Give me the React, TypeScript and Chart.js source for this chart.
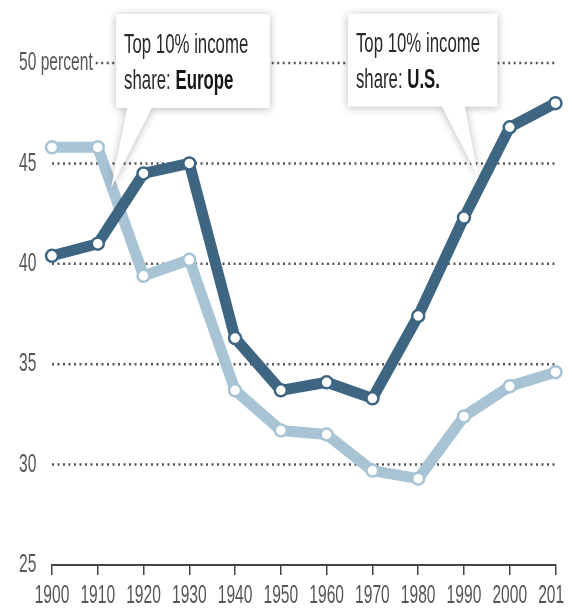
import React, { useEffect, useRef } from "react";
import { Chart, registerables } from "chart.js";

Chart.register(...registerables);

// ---- data ----
const years = [1900, 1910, 1920, 1930, 1940, 1950, 1960, 1970, 1980, 1990, 2000, 2010];
const usShare = [40.4, 41.0, 44.5, 45.0, 36.3, 33.7, 34.1, 33.3, 37.4, 42.3, 46.8, 48.0];
const europeShare = [45.8, 45.8, 39.4, 40.2, 33.7, 31.7, 31.5, 29.7, 29.3, 32.4, 33.9, 34.6];
const yMin = 25;
const yMax = 50;
const yStep = 5;
const calloutTitle = "Top 10% income";
const calloutPrefix = "share: ";

// callouts anchored in data coordinates
const callouts = [
  { region: "Europe", box: [1914.0, 52.44, 1947.6, 47.76], tail: [1916.4, 1921.8], tip: [1912.9, 43.77] },
  { region: "U.S.", box: [1964.65, 52.47, 1997.35, 47.82], tail: [1985.2, 1990.2], tip: [1993.2, 44.27] },
];

// ---- styles ----
const US_COLOR = "#3e6682";
const EU_COLOR = "#a7c3d4";
const TICK_TEXT = "#555555";
const FONT = '"Liberation Sans", Arial, sans-serif';
const SQUEEZE = 0.6;

const yTickLabel = (v: number) => (v === yMax ? `${v} percent` : String(v));

type Part = { text: string; bold?: boolean };

function drawSqueezed(
  ctx: CanvasRenderingContext2D,
  parts: Part[],
  x: number,
  y: number,
  size: number,
  align: "left" | "center",
  color: string,
  baseline: CanvasTextBaseline = "middle",
  squeeze = SQUEEZE
): number {
  ctx.save();
  ctx.translate(x, y);
  ctx.scale(squeeze, 1);
  ctx.textBaseline = baseline;
  ctx.textAlign = "left";
  let total = 0;
  const widths = parts.map((p) => {
    ctx.font = `${p.bold ? "bold " : ""}${size}px ${FONT}`;
    const w = ctx.measureText(p.text).width;
    total += w;
    return w;
  });
  let cx = align === "center" ? -total / 2 : 0;
  parts.forEach((p, i) => {
    ctx.font = `${p.bold ? "bold " : ""}${size}px ${FONT}`;
    ctx.fillStyle = p.bold ? "#151515" : color;
    ctx.fillText(p.text, cx, 0);
    cx += widths[i];
  });
  ctx.restore();
  return total * squeeze;
}

const decorPlugin = {
  id: "decor",
  beforeDatasetsDraw(chart: any) {
    const { ctx, chartArea, scales } = chart;
    const x = scales.x;
    const y = scales.y;
    ctx.save();
    // y labels + dotted grid
    y.ticks.forEach((t: any) => {
      const v = t.value;
      const py = y.getPixelForValue(v);
      const w = drawSqueezed(ctx, [{ text: yTickLabel(v) }], 11, py, 26, "left", TICK_TEXT);
      if (v === yMin) return;
      const startX = v === yMax ? 11 + w + 3 : chartArea.left;
      ctx.beginPath();
      ctx.setLineDash([2, 3.5]);
      ctx.lineWidth = 2.5;
      ctx.strokeStyle = "#555";
      ctx.moveTo(startX, py);
      ctx.lineTo(chartArea.right, py);
      ctx.stroke();
    });
    ctx.setLineDash([]);
    // x labels
    x.ticks.forEach((t: any, i: number) => {
      const px = x.getPixelForTick(i);
      drawSqueezed(ctx, [{ text: String(t.value) }], px, chartArea.bottom + 31, 26, "center", TICK_TEXT);
    });
    ctx.restore();
  },
  afterDatasetsDraw(chart: any) {
    const { ctx, scales } = chart;
    const x = scales.x;
    const y = scales.y;
    callouts.forEach((c) => {
      const L = x.getPixelForValue(c.box[0]);
      const T = y.getPixelForValue(c.box[1]);
      const R = x.getPixelForValue(c.box[2]);
      const B = y.getPixelForValue(c.box[3]);
      const a = x.getPixelForValue(c.tail[0]);
      const b = x.getPixelForValue(c.tail[1]);
      const tx = x.getPixelForValue(c.tip[0]);
      const ty = y.getPixelForValue(c.tip[1]);
      ctx.save();
      ctx.beginPath();
      ctx.moveTo(L, T);
      ctx.lineTo(R, T);
      ctx.lineTo(R, B);
      ctx.lineTo(b, B);
      ctx.lineTo(tx, ty);
      ctx.lineTo(a, B);
      ctx.lineTo(L, B);
      ctx.closePath();
      ctx.shadowColor = "rgba(0,0,0,0.28)";
      ctx.shadowBlur = 9;
      ctx.shadowOffsetX = 0;
      ctx.shadowOffsetY = 1;
      ctx.fillStyle = "#ffffff";
      ctx.fill();
      ctx.restore();
      drawSqueezed(ctx, [{ text: calloutTitle }], L + 8, T + 39, 28, "left", "#2a2a2a", "alphabetic");
      drawSqueezed(
        ctx,
        [{ text: calloutPrefix }, { text: c.region, bold: true }],
        L + 8,
        T + 75,
        28,
        "left",
        "#2a2a2a",
        "alphabetic"
      );
    });
  },
};

export default function App() {
  const canvasRef = useRef<HTMLCanvasElement | null>(null);

  useEffect(() => {
    if (!canvasRef.current) return;
    const lineDataset = (label: string, values: number[], color: string) => ({
      label,
      data: years.map((yr, i) => ({ x: yr, y: values[i] })),
      borderColor: color,
      backgroundColor: color,
      borderWidth: 11,
      borderJoinStyle: "round" as const,
      borderCapStyle: "round" as const,
      tension: 0,
      pointRadius: 6,
      pointBorderWidth: 2.5,
      pointBackgroundColor: "#ffffff",
      pointBorderColor: color,
      clip: false as const,
    });
    const chart = new Chart(canvasRef.current, {
      type: "line",
      data: {
        datasets: [
          lineDataset("U.S.", usShare, US_COLOR),
          lineDataset("Europe", europeShare, EU_COLOR),
        ],
      },
      options: {
        animation: false,
        responsive: true,
        maintainAspectRatio: false,
        layout: { padding: { left: 10, right: 2, top: 55, bottom: 0 } },
        plugins: { legend: { display: false }, tooltip: { enabled: false } },
        scales: {
          x: {
            type: "linear",
            min: years[0],
            max: years[years.length - 1],
            ticks: { stepSize: 10, display: false },
            grid: { drawOnChartArea: false, drawTicks: true, tickLength: 10, color: "#444", lineWidth: 1.5 },
            border: { display: true, color: "#444", width: 2 },
            afterFit: (s: any) => {
              s.height = 43;
            },
          },
          y: {
            min: yMin,
            max: yMax,
            ticks: { stepSize: yStep, display: false },
            grid: { display: false },
            border: { display: false },
            afterFit: (s: any) => {
              s.width = 34;
            },
          },
        },
      },
      plugins: [decorPlugin],
    });
    return () => chart.destroy();
  }, []);

  return (
    <div style={{ width: 556, height: 600, position: "relative" }}>
      <canvas ref={canvasRef} />
    </div>
  );
}
